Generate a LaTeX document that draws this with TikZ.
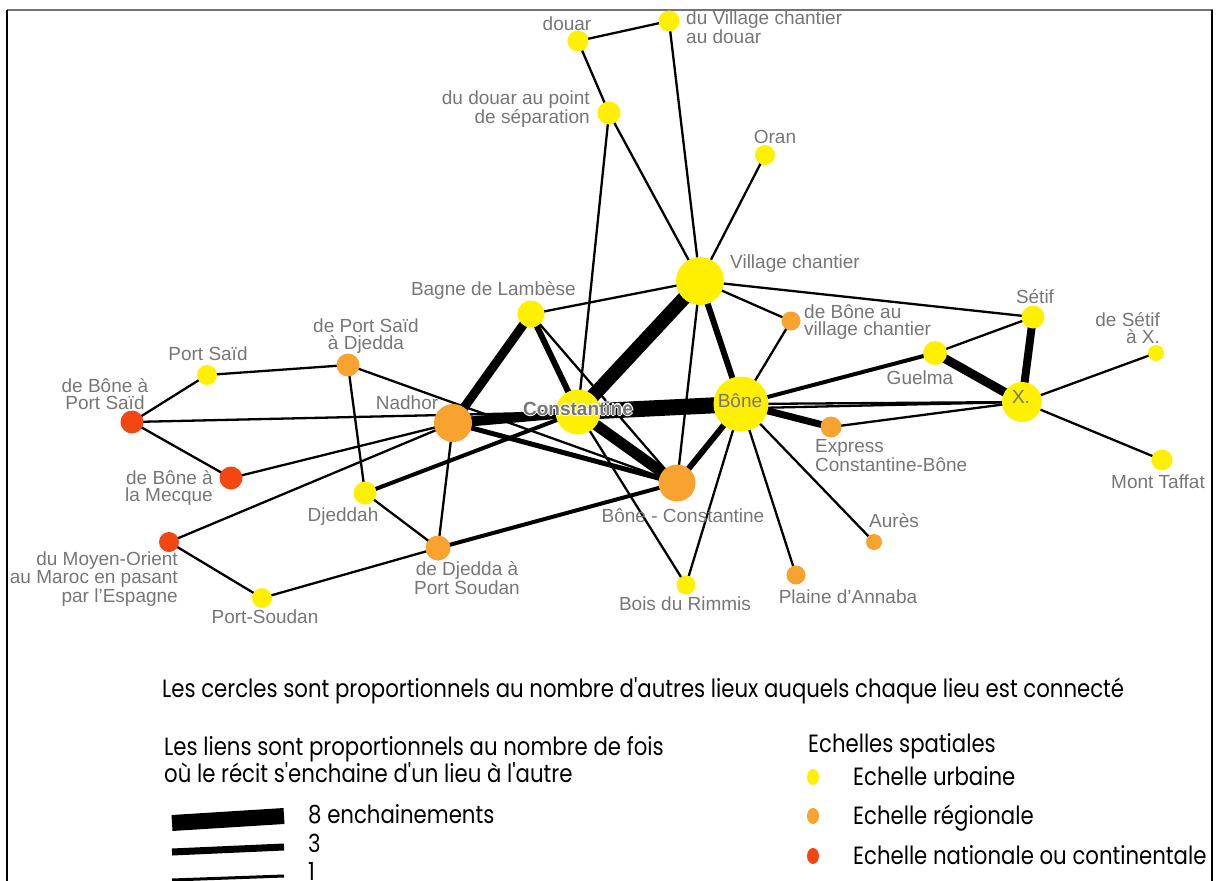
\documentclass[tikz,border=0pt]{standalone}
\usepackage{fontspec}
\setmainfont{Liberation Sans}
\newfontfamily\legfont[FakeStretch=0.85]{Poppins}
\usetikzlibrary{positioning}
\pgfdeclarelayer{background}
\pgfsetlayers{background,main}
\definecolor{urbyellow}{HTML}{FFF000}
\definecolor{regorange}{HTML}{F8A22F}
\definecolor{natred}{HTML}{F24613}
\definecolor{lblgrey}{HTML}{767676}
\newcommand{\lblfont}{\fontsize{19bp}{17.5bp}\selectfont}
\newcommand{\legsize}{\legfont\fontsize{25bp}{27bp}\selectfont}
% white halo behind a label that sits on the thick links
\newcommand{\halotext}[1]{\setbox0=\hbox{#1}%
  \foreach \hx/\hy in {1.2/0,-1.2/0,0/1.2,0/-1.2}{%
    \rlap{\kern\hx bp\raisebox{\hy bp}{\textcolor{white}{\copy0}}}}%
  \box0}

\begin{document}
\begin{tikzpicture}[x=1bp, y=-1bp,
  every node/.style={font=\lblfont, text=lblgrey},
  pl/.style={circle, inner sep=0pt, minimum size=#1},
  urb/.style={pl=#1, fill=urbyellow},
  reg/.style={pl=#1, fill=regorange},
  nat/.style={pl=#1, fill=natred},
  lbl/.style={inner sep=0pt},
  lk/.style={line width=#1, black},
  lk/.default=2.3bp,
  legtxt/.style={inner sep=0pt, font=\legsize, text=black, anchor=base west}]
\useasboundingbox (0,0) rectangle (1220,881);
% frame
\draw[line width=1.5bp, black!55] (7,10) -- (1213,10);
\draw[line width=1.5bp] (7,10) -- (7,881) (1212,10) -- (1212,881);

% places
\node[urb=21bp] (douar) at (578,41) {};
\node[urb=21bp] (vcdouar) at (669,21) {};
\node[urb=23bp] (douarsep) at (609,113) {};
\node[urb=20bp] (oran) at (765,155) {};
\node[urb=48bp] (village) at (700,281) {};
\node[urb=27bp] (bagne) at (531,314) {};
\node[reg=19bp] (bonevc) at (791,321) {};
\node[urb=23bp] (setif) at (1033,317) {};
\node[urb=16bp] (setifx) at (1156,353) {};
\node[urb=24bp] (guelma) at (935,353) {};
\node[urb=40bp] (xville) at (1022,402) {};
\node[urb=21bp] (taffat) at (1162,460) {};
\node[urb=20bp] (portsaid) at (207,375) {};
\node[reg=23bp] (psdjedda) at (348,365) {};
\node[nat=23bp] (boneps) at (132,422) {};
\node[reg=38bp] (nadhor) at (453,423) {};
\node[urb=45bp] (const) at (578,412) {};
\node[urb=55bp] (bone) at (741,404) {};
\node[reg=21bp] (express) at (831,427) {};
\node[nat=23bp] (mecque) at (231,478) {};
\node[urb=23bp] (djeddah) at (365,493) {};
\node[reg=37bp] (bonecst) at (677,483) {};
\node[reg=16bp] (aures) at (874,542) {};
\node[nat=20bp] (moyen) at (169,542) {};
\node[reg=25bp] (djsoudan) at (438,548) {};
\node[urb=19bp] (rimmis) at (686,585) {};
\node[reg=19bp] (annaba) at (796,575) {};
\node[urb=20bp] (portsoudan) at (262,598) {};

% labels
\node[lbl, anchor=base] (douarl) at (567,30) {douar};
\node[lbl, anchor=base west, align=left] (vcdouarl) at (686,43.5) {du Village chantier\\au douar};
\node[lbl, anchor=base east, align=right] (douarsepl) at (590,123.5) {du douar au point\\de séparation};
\node[lbl, anchor=base] (oranl) at (775,143) {Oran};
\node[lbl, anchor=base west] (villagel) at (730,268) {Village chantier};
\node[lbl, anchor=base east] (bagnel) at (576,295) {Bagne de Lambèse};
\node[lbl, anchor=base west, align=left] (bonevcl) at (804,335.5) {de Bône au\\village chantier};
\node[lbl, anchor=base] (setifl) at (1035,303) {Sétif};
\node[lbl, anchor=base east, align=right] (setifxl) at (1160,343.5) {de Sétif\\à X.};
\node[lbl, anchor=base] (guelmal) at (920,384) {Guelma};
\node[lbl, anchor=base] (xvillel) at (1021,403) {X.};
\node[lbl, anchor=base] (taffatl) at (1158,488) {Mont Taffat};
\node[lbl, anchor=base] (portsaidl) at (208,360) {Port Saïd};
\node[lbl, anchor=base, align=center] (psdjeddal) at (366,349.5) {de Port Saïd\\à Djedda};
\node[lbl, anchor=base, align=center] (bonepsl) at (105,409.5) {de Bône à\\Port Saïd};
\node[lbl, anchor=base] (nadhorl) at (407,409) {Nadhor};
\node[lbl, anchor=base] (constl) at (578,415) {\halotext{\bfseries Constantine}};
\node[lbl, anchor=base] (bonel) at (740,407) {Bône};
\node[lbl, anchor=base west, align=left] (expressl) at (815,471.5) {Express\\Constantine-Bône};
\node[lbl, anchor=base east, align=right] (mecquel) at (213,501.5) {de Bône à\\la Mecque};
\node[lbl, anchor=base] (djeddahl) at (343,521) {Djeddah};
\node[lbl, anchor=base] (bonecstl) at (683,522) {Bône - Constantine};
\node[lbl, anchor=base] (auresl) at (894,527) {Aurès};
\node[lbl, anchor=base east, align=right] (moyenl) at (178,602) {du Moyen-Orient\\au Maroc en pasant\\par l'Espagne};
\node[lbl, anchor=base, align=center] (djsoudanl) at (467,594.5) {de Djedda à\\Port Soudan};
\node[lbl, anchor=base] (rimmisl) at (685,610) {Bois du Rimmis};
\node[lbl, anchor=base] (annabal) at (848,603) {Plaine d'Annaba};
\node[lbl, anchor=base] (portsoudanl) at (265,623) {Port-Soudan};

% links
\begin{pgfonlayer}{background}
\draw[lk] (douar.center) -- (vcdouar.center);
\draw[lk] (douar.center) -- (douarsep.center);
\draw[lk] (vcdouar.center) -- (village.center);
\draw[lk] (douarsep.center) -- (village.center);
\draw[lk] (douarsep.center) -- (const.center);
\draw[lk] (oran.center) -- (village.center);
\draw[lk] (village.center) -- (bagne.center);
\draw[lk] (village.center) -- (bonevc.center);
\draw[lk] (village.center) -- (setif.center);
\draw[lk] (village.center) -- (bonecst.center);
\draw[lk=14bp] (village.center) -- (const.center);
\draw[lk=6bp] (village.center) -- (bone.center);
\draw[lk] (bonevc.center) -- (bone.center);
\draw[lk=9bp] (bagne.center) -- (nadhor.center);
\draw[lk=6bp] (bagne.center) -- (const.center);
\draw[lk] (bagne.center) -- (bonecst.center);
\draw[lk] (psdjedda.center) -- (portsaid.center);
\draw[lk] (psdjedda.center) -- (djeddah.center);
\draw[lk] (psdjedda.center) -- (bonecst.center);
\draw[lk] (portsaid.center) -- (boneps.center);
\draw[lk] (boneps.center) -- (mecque.center);
\draw[lk] (boneps.center) -- (xville.center);
\draw[lk] (mecque.center) -- (nadhor.center);
\draw[lk] (moyen.center) -- (nadhor.center);
\draw[lk] (moyen.center) -- (portsoudan.center);
\draw[lk=10bp] (nadhor.center) -- (const.center);
\draw[lk=5bp] (nadhor.center) -- (bonecst.center);
\draw[lk] (nadhor.center) -- (djsoudan.center);
\draw[lk=4bp] (djeddah.center) -- (const.center);
\draw[lk] (djeddah.center) -- (djsoudan.center);
\draw[lk=4bp] (djsoudan.center) -- (bonecst.center);
\draw[lk] (djsoudan.center) -- (portsoudan.center);
\draw[lk=16bp] (const.center) -- (bone.center);
\draw[lk=11bp] (const.center) -- (bonecst.center);
\draw[lk] (const.center) -- (rimmis.center);
\draw[lk=6bp] (bone.center) -- (bonecst.center);
\draw[lk] (bone.center) -- (rimmis.center);
\draw[lk] (bone.center) -- (annaba.center);
\draw[lk] (bone.center) -- (aures.center);
\draw[lk=7bp] (bone.center) -- (express.center);
\draw[lk=4bp] (bone.center) -- (guelma.center);
\draw[lk] (bone.center) -- (xville.center);
\draw[lk] (express.center) -- (xville.center);
\draw[lk] (guelma.center) -- (setif.center);
\draw[lk=9bp] (guelma.center) -- (xville.center);
\draw[lk=8bp] (setif.center) -- (xville.center);
\draw[lk] (xville.center) -- (setifx.center);
\draw[lk] (xville.center) -- (taffat.center);
\end{pgfonlayer}

% legend
\node[legtxt] (cercles) at (162,697) {Les cercles sont proportionnels au nombre d'autres lieux auquels chaque lieu est connecté};
\node[legtxt, align=left] (liens) at (164,782) {Les liens sont proportionnels au nombre de fois\\où le récit s'enchaine d'un lieu à l'autre};
\draw[line width=16bp] (172,823) -- (284,816);
\draw[line width=7bp] (172,852) -- (284,847);
\draw[line width=3bp] (172,880) -- (284,876);
\node[legtxt] (huit) at (308,823) {8 enchainements};
\node[legtxt] (trois) at (308,852) {3};
\node[legtxt] (un) at (308,880) {1};
\node[legtxt] (echelles) at (808,752) {Echelles spatiales};
\fill[urbyellow] (813,777) ellipse [x radius=6bp, y radius=8bp];
\fill[regorange] (813,816) ellipse [x radius=6bp, y radius=8bp];
\fill[natred] (813,856) ellipse [x radius=6bp, y radius=8bp];
\node[legtxt] (urbaine) at (853,785) {Echelle urbaine};
\node[legtxt] (regionale) at (853,824) {Echelle régionale};
\node[legtxt] (nationale) at (853,864) {Echelle nationale ou continentale};
\end{tikzpicture}
\end{document}
